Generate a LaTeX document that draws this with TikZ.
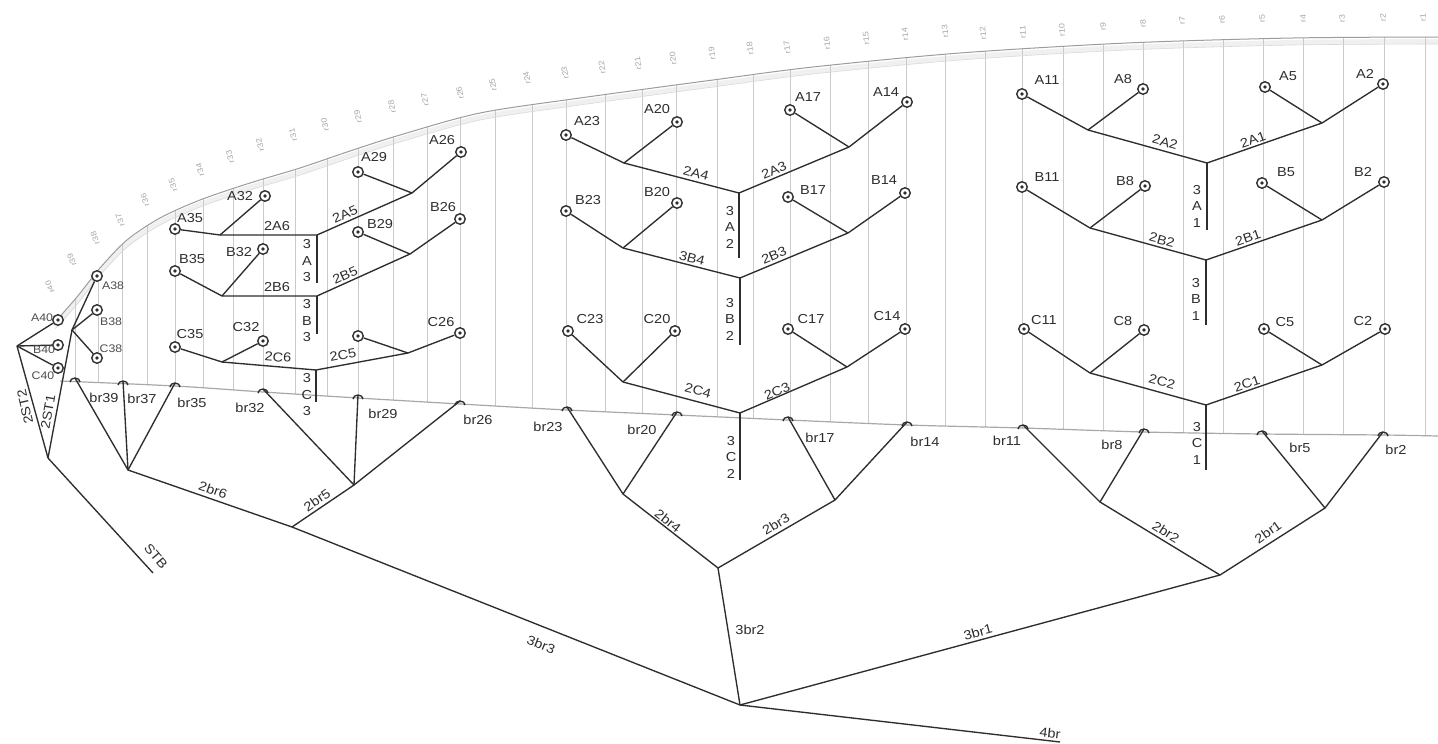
\documentclass[tikz,border=0pt]{standalone}
\usepackage{fontspec}
\setmainfont{Liberation Sans}[FakeStretch=1.12]
\usetikzlibrary{calc}
\definecolor{ink}{HTML}{2E2E2E}
\definecolor{gridc}{HTML}{CACACA}
\definecolor{arcc}{HTML}{9C9C9C}
\definecolor{bandc}{HTML}{F0F0F0}
\definecolor{basec}{HTML}{A8A8A8}
\definecolor{rlab}{HTML}{A8A8A8}
\begin{document}
\begin{tikzpicture}[x=1pt,y=-1pt,
  mk/.style={circle, draw=ink, line width=1.4pt, minimum size=10.5pt, inner sep=0pt, fill=white,
    path picture={\fill[ink] (path picture bounding box.center) circle (1.8pt);}},
  ln/.style={draw=ink, line width=1.35pt, line join=round},
  lb/.style={text=ink, font=\fontsize{13}{13}\selectfont, inner sep=0pt},
  sm/.style={text=ink!85, font=\fontsize{11}{11}\selectfont, inner sep=0pt},
  stk/.style={text=ink, font=\fontsize{13}{16.5}\selectfont, inner sep=0pt, align=center},
  rl/.style={text=rlab, font=\fontsize{8}{8}\selectfont, inner sep=0pt},
  brarch/.style={draw=ink, line width=1.4pt}]
\useasboundingbox (0,0) rectangle (1438,744);
\fill[white] (0,0) rectangle (1438,744);

% ---------- background: arc band, grid, baseline ----------
\def\arcpts{(55,322) (77,297) (100,268) (127,240) (160,218) (200,200) (250,183) (300,168) (350,151) (400,135) (480,113) (580,98) (713,80) (813,67) (960,53) (1127,43) (1293,38) (1438,37)}
\begin{scope}[yshift=-4.5pt]
  \draw[bandc, line width=5pt] plot[smooth] coordinates {\arcpts};
\end{scope}
\begin{scope}
  \clip plot[smooth] coordinates {(55,322) (77,297) (100,268) (127,240) (160,218) (200,200) (250,183) (300,168) (350,151) (400,135) (480,113) (580,98) (713,80) (813,67) (960,53) (1127,43) (1293,38) (1438,37)}
    -- plot[smooth] coordinates {(1438,436) (1383,435) (1262,434) (1144,432) (1023,428) (907,425) (788,420) (677,415) (567,410) (460,404) (358,398) (263,392) (175,386) (60,381)} -- cycle;
  \foreach \x in {1425,1384,1343,1303,1263,1223,1183,1143,1103,1063,1022,985,945,906,868,830,790,753,717,676,642,605,566,532,495,460,427,393,358,327,295,263,233,203,175,147,122,98,75}
    \draw[gridc, line width=0.8pt] (\x,0) -- (\x,500);
\end{scope}
\begin{scope}[yshift=-7pt]
  \draw[gridc!70, line width=0.6pt] plot[smooth] coordinates {\arcpts};
\end{scope}
\draw[arcc, line width=1pt] plot[smooth] coordinates {\arcpts};
\draw[basec, line width=1.2pt] plot[smooth] coordinates {(60,381) (175,386) (263,392) (358,398) (460,404) (567,410) (677,415) (788,420) (907,425) (1023,428) (1144,432) (1262,434) (1383,435) (1438,436)};

% top rank labels
\foreach \n/\x/\y/\a in {1/1423/18/92, 2/1383/18/92, 3/1342/19/92, 4/1303/19/92, 5/1262/19/92, 6/1222/20/92, 7/1182/21/92, 8/1143/24/92, 9/1103/27/92, 10/1062/30/92, 11/1023/32/92, 12/983/33/95, 13/945/31/95, 14/905/34/95, 15/866/38/95, 16/827/43/95, 17/787/47/98, 18/750/48/98, 19/712/53/98, 20/673/58/98, 21/638/63/98, 22/602/67/98, 23/565/73/100, 24/527/78/100, 25/493/85/100, 26/460/93/100, 27/425/100/102, 28/392/107/102, 29/358/117/102, 30/325/125/102, 31/293/135/105, 32/260/145/105, 33/230/157/105, 34/200/170/105, 35/173/185/108, 36/145/200/108, 37/120/220/110, 38/95/238/110, 39/72/260/112, 40/50/287/112}
  \node[rl, rotate=\a] (r\n) at (\x,\y) {r\n};

% ---------- junction coordinates ----------
\foreach \n/\x/\y in {
  jA118/1088/130, jA52/1322/123, jA1/1207/163, eA1/1207/230,
  jB118/1090/228, jB52/1322/220, jB1/1206/260, eB1/1206/325,
  jC118/1090/373, jC52/1322/365, jC1/1206/405, eC1/1206/470,
  jA2320/624/163, jA1714/849/147, jA2/739/193, eA2/739/258,
  jB2320/623/248, jB1714/848/233, jB2/740/278, eB2/740/345,
  jC2320/623/382, jC1714/847/367, jC2/740/413, eC2/740/480,
  jA3532/220/235, jA3/317/235, jA2926/412/193, eA3/317/283,
  jB3532/222/296, jB3/317/296, jB2926/410/254, eB3/317/334,
  jC3532/222/362, jC3/316/370, jC2926/408/353, eC3/316/402,
  jbr118/1100/502, jbr52/1325/508, jbr1/1220/575,
  jbr2320/623/494, jbr1714/835/500, jbr4/718/568,
  jbr3/128/470, jbr2/354/485, jbr6/292/527,
  j3br/740/705, e4br/1060/742,
  j40/17/346, j38/72/330, jST/48/458, eSTB/153/573}
  \coordinate (\n) at (\x,\y);

% br apex coordinates
\foreach \n/\x/\y in {br39/75/378, br37/123/381, br35/175/383, br32/263/389, br29/358/395, br26/460/401,
  br23/567/407, br20/677/412, br17/788/417, br14/907/422, br11/1023/425, br8/1144/429, br5/1262/431, br2/1383/432}
  \coordinate (\n) at (\x,\y);

% ---------- connectors ----------
\draw[ln] (jA118) -- (jA1) -- (jA52);
\draw[ln] (jA1) -- (eA1);
\draw[ln] (jB118) -- (jB1) -- (jB52);
\draw[ln] (jB1) -- (eB1);
\draw[ln] (jC118) -- (jC1) -- (jC52);
\draw[ln] (jC1) -- (eC1);
\draw[ln] (jA2320) -- (jA2) -- (jA1714);
\draw[ln] (jA2) -- (eA2);
\draw[ln] (jB2320) -- (jB2) -- (jB1714);
\draw[ln] (jB2) -- (eB2);
\draw[ln] (jC2320) -- (jC2) -- (jC1714);
\draw[ln] (jC2) -- (eC2);
\draw[ln] (jA3532) -- (jA3) -- (jA2926);
\draw[ln] (jA3) -- (eA3);
\draw[ln] (jB3532) -- (jB3) -- (jB2926);
\draw[ln] (jB3) -- (eB3);
\draw[ln] (jC3532) -- (jC3) -- (jC2926);
\draw[ln] (jC3) -- (eC3);
\draw[ln] (br11) -- (jbr118) -- (br8);
\draw[ln] (br5) -- (jbr52) -- (br2);
\draw[ln] (jbr118) -- (jbr1) -- (jbr52);
\draw[ln] (br23) -- (jbr2320) -- (br20);
\draw[ln] (br17) -- (jbr1714) -- (br14);
\draw[ln] (jbr2320) -- (jbr4) -- (jbr1714);
\draw[ln] (br39) -- (jbr3) -- (br35);
\draw[ln] (br37) -- (jbr3);
\draw[ln] (br32) -- (jbr2) -- (br26);
\draw[ln] (br29) -- (jbr2);
\draw[ln] (jbr3) -- (jbr6) -- (jbr2);
\draw[ln] (jbr6) -- (j3br);
\draw[ln] (jbr4) -- (j3br);
\draw[ln] (jbr1) -- (j3br);
\draw[ln] (j3br) -- (e4br);
\draw[ln] (j40) -- (jST);
\draw[ln] (j38) -- (jST);
\draw[ln] (jST) -- (eSTB);

% br arches
\foreach \n in {br39,br37,br35,br32,br29,br26,br23,br20,br17,br14,br11,br8,br5,br2}
  \draw[brarch] ($(\n)+(-5,4)$) arc[start angle=180, end angle=0, x radius=5pt, y radius=4pt];

% ---------- markers ----------
\foreach \n/\x/\y in {
  A11/1022/94, A8/1143/89, A5/1265/87, A2/1383/84,
  B11/1022/187, B8/1145/186, B5/1262/183, B2/1384/182,
  C11/1024/329, C8/1144/330, C5/1264/329, C2/1385/329,
  A23/566/135, A20/677/122, A17/790/110, A14/907/102,
  B23/566/211, B20/677/203, B17/788/197, B14/905/193,
  C23/568/331, C20/675/331, C17/788/329, C14/905/329,
  A35/175/229, A32/265/196, A29/358/172, A26/461/152,
  B35/175/271, B32/263/249, B29/358/232, B26/460/219,
  C35/175/347, C32/263/341, C29/358/336, C26/460/333,
  A40/58/320, B40/58/345, C40/58/368,
  A38/97/276, B38/97/310, C38/97/358}
  \node[mk] (\n) at (\x,\y) {};

\draw[ln] (A11) -- (jA118); \draw[ln] (A8) -- (jA118); \draw[ln] (A5) -- (jA52); \draw[ln] (A2) -- (jA52);
\draw[ln] (B11) -- (jB118); \draw[ln] (B8) -- (jB118); \draw[ln] (B5) -- (jB52); \draw[ln] (B2) -- (jB52);
\draw[ln] (C11) -- (jC118); \draw[ln] (C8) -- (jC118); \draw[ln] (C5) -- (jC52); \draw[ln] (C2) -- (jC52);
\draw[ln] (A23) -- (jA2320); \draw[ln] (A20) -- (jA2320); \draw[ln] (A17) -- (jA1714); \draw[ln] (A14) -- (jA1714);
\draw[ln] (B23) -- (jB2320); \draw[ln] (B20) -- (jB2320); \draw[ln] (B17) -- (jB1714); \draw[ln] (B14) -- (jB1714);
\draw[ln] (C23) -- (jC2320); \draw[ln] (C20) -- (jC2320); \draw[ln] (C17) -- (jC1714); \draw[ln] (C14) -- (jC1714);
\draw[ln] (A35) -- (jA3532); \draw[ln] (A32) -- (jA3532); \draw[ln] (A29) -- (jA2926); \draw[ln] (A26) -- (jA2926);
\draw[ln] (B35) -- (jB3532); \draw[ln] (B32) -- (jB3532); \draw[ln] (B29) -- (jB2926); \draw[ln] (B26) -- (jB2926);
\draw[ln] (C35) -- (jC3532); \draw[ln] (C32) -- (jC3532); \draw[ln] (C29) -- (jC2926); \draw[ln] (C26) -- (jC2926);
\draw[ln] (A40) -- (j40); \draw[ln] (B40) -- (j40); \draw[ln] (C40) -- (j40);
\draw[ln] (A38) -- (j38); \draw[ln] (B38) -- (j38); \draw[ln] (C38) -- (j38);

% ---------- leaf labels ----------
\foreach \n/\x/\y in {
  A11/1047/80, A8/1123/79, A5/1288/76, A2/1365/74,
  B11/1047/177, B8/1125/181, B5/1286/172, B2/1363/172,
  C11/1044/320, C8/1123/321, C5/1285/322, C2/1363/321,
  A23/587/121, A20/657/109, A17/808/97, A14/886/92,
  B23/588/200, B20/657/192, B17/813/190, B14/884/180,
  C23/590/319, C20/657/319, C17/811/319, C14/887/316,
  A35/190/218, A32/240/196, A29/374/157, A26/442/140,
  B35/192/259, B32/239/252, B29/380/224, B26/443/207,
  C35/190/334, C32/246/327, C26/441/322,
  br39/104/398, br37/142/399, br35/192/403, br32/250/408, br29/383/414, br26/478/420,
  br23/548/427, br20/642/430, br17/820/438, br14/925/442,
  br11/1007/441, br8/1112/445, br5/1300/448, br2/1396/450}
  \node[lb] (t\n) at (\x,\y) {\n};
\foreach \n/\x/\y in {A40/42/318, B40/44/350, C40/43/376, A38/113/286, B38/111/322, C38/111/349}
  \node[sm] (t\n) at (\x,\y) {\n};

% ---------- branch labels ----------
\foreach \t/\x/\y/\a in {
  2A2/1165/142/-15.5, 2A1/1253/140/19, 2B2/1162/240/-15.4, 2B1/1248/238/19,
  2C2/1162/382/-15.4, 2C1/1247/384/19,
  2A4/696/173/-14.6, 2A3/774/170/22.7, 3B4/692/258/-14.4, 2B3/774/255/22.6,
  2C4/698/391/-14.8, 2C3/777/391/23.3,
  2A6/277/226/0, 2A5/345/214/23.8, 2B6/277/287/0, 2B5/345/275/24.3,
  2C6/278/357/-4.9, 2C5/343/355/10.5,
  2br6/213/490/-19.2, 2br5/317/500/34, 3br3/541/645/-21.7,
  2br4/668/521/-38.3, 2br3/776/524/31.3, 3br2/750/630/0,
  2br2/1166/532/-32.7, 2br1/1268/532/35, 3br1/978/632/15.2,
  4br/1050/733/-6.6, STB/156/556/-50, 2ST2/25/407/103, 2ST1/48/412/80}
  \node[lb, rotate=\a] (l\t) at (\x,\y) {\t};

% stacked level-3 labels
\foreach \t/\u/\x/\y in {A/1/1197/206, B/1/1196/299, C/1/1197/443,
  A/2/730/227, B/2/730/319, C/2/731/457,
  A/3/307/261, B/3/307/321, C/3/307/395}
  \node[stk] (s\t\u) at (\x,\y) {3\\\t\\\u};
\end{tikzpicture}
\end{document}
